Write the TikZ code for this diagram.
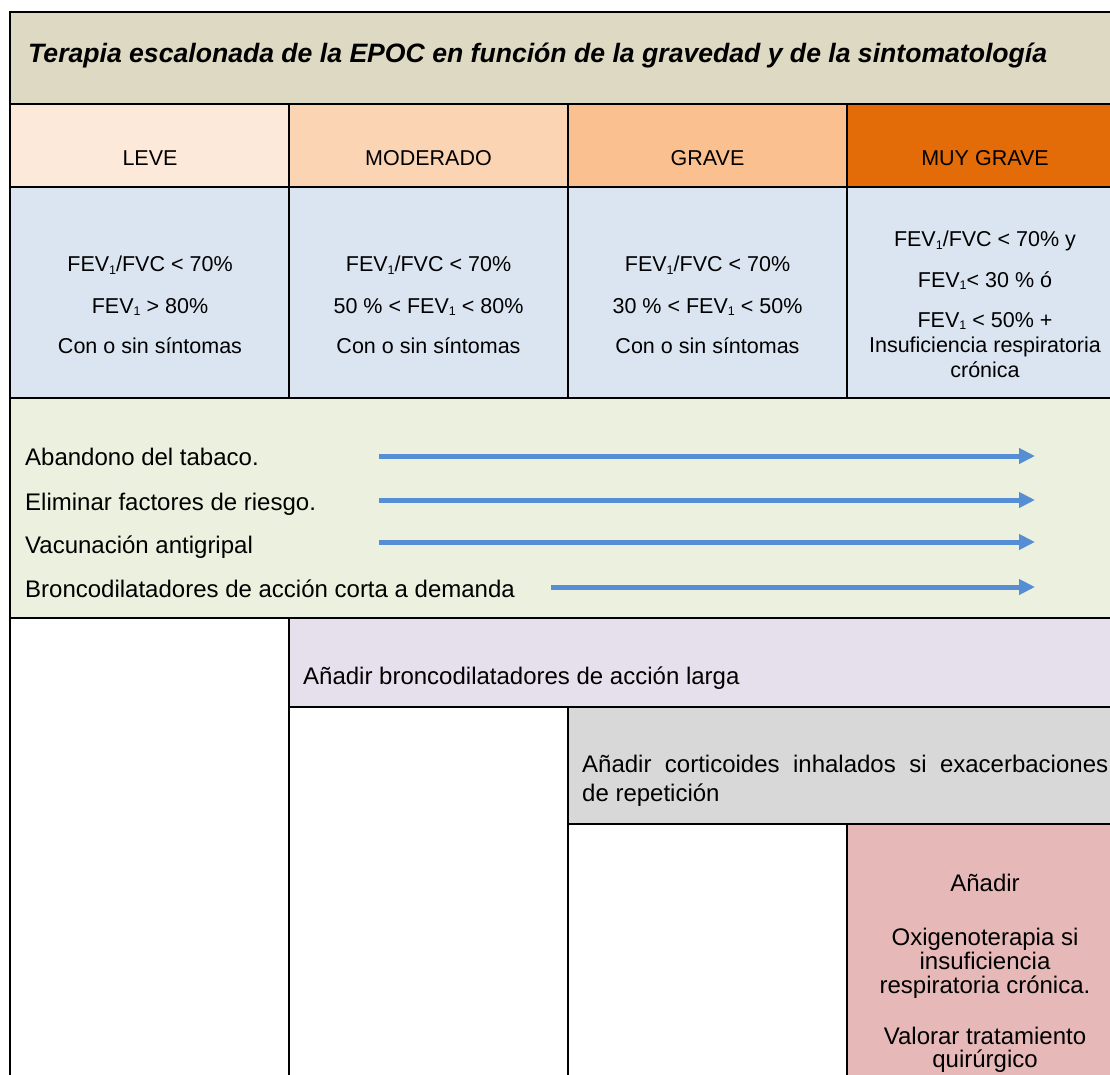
\documentclass[tikz,border=0pt]{standalone}
\usepackage{fontspec}
\setmainfont{Liberation Sans}
\usetikzlibrary{arrows.meta}
\definecolor{titulo}{HTML}{DDD9C3}
\definecolor{leve}{HTML}{FDE9D9}
\definecolor{moderado}{HTML}{FBD4B4}
\definecolor{grave}{HTML}{FAC090}
\definecolor{muygrave}{HTML}{E36C09}
\definecolor{criterio}{HTML}{DBE5F1}
\definecolor{medidas}{HTML}{EBF1DE}
\definecolor{broncod}{HTML}{E5E0EC}
\definecolor{cortic}{HTML}{D8D8D8}
\definecolor{oxigeno}{HTML}{E6B9B8}
\definecolor{flecha}{HTML}{558ED5}
\tikzset{
  celda/.style={font=\fontsize{21.5}{24}\selectfont, inner sep=0pt, anchor=base},
  texto/.style={font=\fontsize{24}{27.6}\selectfont, inner sep=0pt, anchor=base west},
  centro/.style={font=\fontsize{24}{27.6}\selectfont, inner sep=0pt, anchor=base},
  paso/.style={draw=flecha, line width=5pt, -{Triangle[length=16pt,width=15pt]}},
  borde/.style={line width=2.5pt}
}
\newcommand{\fev}{FEV\raisebox{-2.5pt}{\fontsize{12.5}{12.5}\selectfont 1}}
\begin{document}
\begin{tikzpicture}[x=1pt,y=-1pt]
  \useasboundingbox (0,0) rectangle (1110,1075);
  \fill[white] (0,0) rectangle (1110,1075);
  % fondos de las filas
  \fill[titulo] (10,12) rectangle (1110,104);
  \fill[leve] (10,104) rectangle (289,187);
  \fill[moderado] (289,104) rectangle (568,187);
  \fill[grave] (568,104) rectangle (847,187);
  \fill[muygrave] (847,104) rectangle (1110,187);
  \fill[criterio] (10,187) rectangle (1110,398);
  \fill[medidas] (10,398) rectangle (1110,618);
  \fill[broncod] (289,618) rectangle (1110,707);
  \fill[cortic] (568,707) rectangle (1110,824);
  \fill[oxigeno] (847,824) rectangle (1110,1075);
  % bordes
  \draw[borde] (10,1075) -- (10,12) -- (1110,12);
  \draw[borde] (10,104) -- (1110,104);
  \draw[borde] (10,187) -- (1110,187);
  \draw[borde] (10,398) -- (1110,398);
  \draw[borde] (10,618) -- (1110,618);
  \draw[borde] (289,707) -- (1110,707);
  \draw[borde] (568,824) -- (1110,824);
  \draw[borde] (289,104) -- (289,398);
  \draw[borde] (568,104) -- (568,398);
  \draw[borde] (847,104) -- (847,398);
  \draw[borde] (289,618) -- (289,1075);
  \draw[borde] (568,707) -- (568,1075);
  \draw[borde] (847,824) -- (847,1075);
  % titulo
  \node[anchor=base west, inner sep=0pt, font=\fontsize{26.6}{30}\selectfont\bfseries\itshape]
    (tit) at (28,63) {Terapia escalonada de la EPOC en función de la gravedad y de la sintomatología};
  % gravedad
  \node[celda] (leve) at (150,166) {LEVE};
  \node[celda] (mod) at (428.5,166) {MODERADO};
  \node[celda] (gra) at (707.5,166) {GRAVE};
  \node[celda] (mgra) at (985,166) {MUY GRAVE};
  % criterios
  \node[celda] (leve1) at (150,272) {\fev/FVC < 70\%};
  \node[celda] (leve2) at (150,313) {\fev{} > 80\%};
  \node[celda] (leve3) at (150,353) {Con o sin síntomas};
  \node[celda] (mod1) at (428.5,272) {\fev/FVC < 70\%};
  \node[celda] (mod2) at (428.5,313) {50 \% < \fev{} < 80\%};
  \node[celda] (mod3) at (428.5,353) {Con o sin síntomas};
  \node[celda] (gra1) at (707.5,272) {\fev/FVC < 70\%};
  \node[celda] (gra2) at (707.5,313) {30 \% < \fev{} < 50\%};
  \node[celda] (gra3) at (707.5,353) {Con o sin síntomas};
  \node[celda] (mgra1) at (985,247) {\fev/FVC < 70\% y};
  \node[celda] (mgra2) at (985,287) {\fev{}< 30 \% ó};
  \node[celda] (mgra3) at (985,327) {\fev{} < 50\% +};
  \node[celda] (mgra4) at (985,352) {Insuficiencia respiratoria};
  \node[celda] (mgra5) at (985,377) {crónica};
  % medidas generales
  \node[texto] (tabaco) at (25,465) {Abandono del tabaco.};
  \node[texto] (riesgo) at (25,510) {Eliminar factores de riesgo.};
  \node[texto] (vacuna) at (25,553) {Vacunación antigripal};
  \node[texto] (corta) at (25,597) {Broncodilatadores de acción corta a demanda};
  \coordinate (tabaco-a) at (379,456);
  \coordinate (tabaco-b) at (1035,456);
  \coordinate (riesgo-a) at (379,500);
  \coordinate (riesgo-b) at (1035,500);
  \coordinate (vacuna-a) at (379,542);
  \coordinate (vacuna-b) at (1035,542);
  \coordinate (corta-a) at (551,587);
  \coordinate (corta-b) at (1035,587);
  \draw[paso] (tabaco-a) -- (tabaco-b);
  \draw[paso] (riesgo-a) -- (riesgo-b);
  \draw[paso] (vacuna-a) -- (vacuna-b);
  \draw[paso] (corta-a) -- (corta-b);
  % escalones
  \node[texto] (larga) at (303,684) {Añadir broncodilatadores de acción larga};
  \node[texto] (cort1) at (582,772)
    {\hbox to 526pt{Añadir\hfill corticoides\hfill inhalados\hfill si\hfill exacerbaciones}};
  \node[texto] (cort2) at (582,801) {de repetición};
  \node[centro] (oxi1) at (985,891) {Añadir};
  \node[centro] (oxi2) at (985,945) {Oxigenoterapia si};
  \node[centro] (oxi3) at (985,969) {insuficiencia};
  \node[centro] (oxi4) at (985,993) {respiratoria crónica.};
  \node[centro] (oxi5) at (985,1044) {Valorar tratamiento};
  \node[centro] (oxi6) at (985,1067) {quirúrgico};
\end{tikzpicture}
\end{document}
